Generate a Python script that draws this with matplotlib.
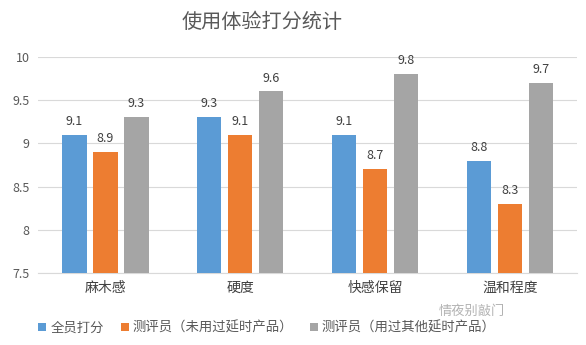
import matplotlib
matplotlib.use("Agg")
import matplotlib.pyplot as plt
import numpy as np

plt.rcParams['font.family'] = ['Noto Sans CJK SC', 'DejaVu Sans']

categories = ['麻木感', '硬度', '快感保留', '温和程度']
series_names = ['全员打分', '测评员（未用过延时产品）', '测评员（用过其他延时产品）']
all_scores = [9.1, 9.3, 9.1, 8.8]
new_testers = [8.9, 9.1, 8.7, 8.3]
exp_testers = [9.3, 9.6, 9.8, 9.7]
colors = ['#5B9BD5', '#ED7D31', '#A5A5A5']
yticks = [7.5, 8, 8.5, 9, 9.5, 10]

fig = plt.figure(figsize=(5.86, 3.45), dpi=100)
ax = fig.add_axes([0.065, 0.209, 0.92, 0.626])

x = np.arange(len(categories))
w = 0.18
offs = [-0.23, 0, 0.23]
txtc = '#595959'
for vals, off, c, name in zip([all_scores, new_testers, exp_testers], offs, colors, series_names):
    ax.bar(x + off, [v - 7.5 for v in vals], w, bottom=7.5, color=c, label=name, zorder=3)
    for xi, v in zip(x + off, vals):
        ax.text(xi, v + 0.08, f'{v}', ha='center', va='bottom', fontsize=9, color='#404040')

ax.set_ylim(7.5, 10)
ax.set_xlim(-0.5, 3.5)
ax.set_yticks(yticks)
ax.set_yticklabels([f'{t:g}' for t in yticks], fontsize=9, color=txtc)
ax.set_xticks(x)
ax.set_xticklabels(categories, fontsize=10, color='#404040')
ax.tick_params(length=0, pad=6)
ax.grid(axis='y', color='#D9D9D9', linewidth=0.8, zorder=0)
for s in ['top', 'right', 'left']:
    ax.spines[s].set_visible(False)
ax.spines['bottom'].set_color('#D9D9D9')

fig.text(0.447, 0.935, '使用体验打分统计', ha='center', va='center', fontsize=14.5, color=txtc)

fig.legend(loc='center left', bbox_to_anchor=(0.045, 0.050), ncol=3, frameon=False,
           fontsize=9.6, handlelength=0.6, handleheight=0.6, handletextpad=0.3,
           columnspacing=1.25, labelcolor=txtc)

fig.text(0.862, 0.098, '情夜别敲门', ha='right', va='center', fontsize=9.5, color='#808080', alpha=0.6)

fig.savefig('out.png', dpi=100)
